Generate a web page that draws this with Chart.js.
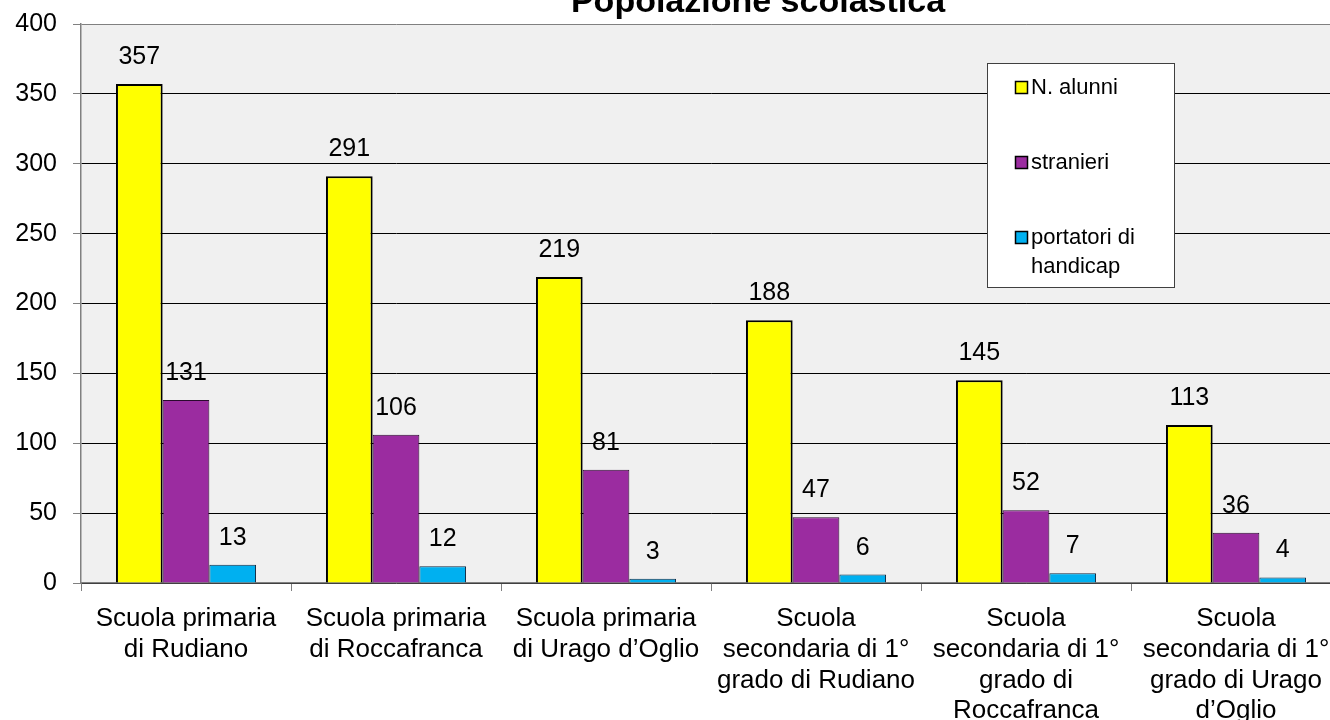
<!DOCTYPE html>
<html>
<head>
<meta charset="utf-8">
<script src="https://cdn.jsdelivr.net/npm/chart.js@4/dist/chart.umd.min.js"></script>
<style>
	body { margin: 0; overflow: hidden; background: #fff; }
	#wrap { position: relative; width: 1341px; height: 720px; }
</style>
</head>
<body>
<div id="wrap"><canvas id="chart"></canvas></div>
<script>
var chartTitle = "Popolazione scolastica";
var schools = [
	["Scuola primaria", "di Rudiano"],
	["Scuola primaria", "di Roccafranca"],
	["Scuola primaria", "di Urago d\u2019Oglio"],
	["Scuola", "secondaria di 1\u00b0", "grado di Rudiano"],
	["Scuola", "secondaria di 1\u00b0", "grado di", "Roccafranca"],
	["Scuola", "secondaria di 1\u00b0", "grado di Urago", "d\u2019Oglio"]
];
var seriesNames = ["N. alunni", "stranieri", "portatori di handicap"];
var alunni = [357, 291, 219, 188, 145, 113];
var stranieri = [131, 106, 81, 47, 52, 36];
var handicap = [13, 12, 3, 6, 7, 4];
var yTicks = [0, 50, 100, 150, 200, 250, 300, 350, 400];

var FONT = "'Liberation Sans', Arial, sans-serif";

// plot area background
var plotBg = {
	id: "plotBg",
	beforeDraw: function(chart) {
		var a = chart.chartArea, ctx = chart.ctx;
		ctx.save();
		ctx.fillStyle = "#f0f0f0";
		ctx.fillRect(a.left, a.top, a.right - a.left, a.bottom - a.top);
		ctx.restore();
	}
};

// numbers above bars
var barValues = {
	id: "barValues",
	afterDatasetsDraw: function(chart) {
		var ctx = chart.ctx;
		ctx.save();
		ctx.font = "25px " + FONT;
		ctx.fillStyle = "#000";
		ctx.textAlign = "center";
		ctx.textBaseline = "middle";
		chart.data.datasets.forEach(function(ds, i) {
			chart.getDatasetMeta(i).data.forEach(function(bar, j) {
				ctx.fillText(ds.data[j], bar.x, bar.y - 27);
			});
		});
		ctx.restore();
	}
};

// title (partly cut at the top) and boxed legend
var decor = {
	id: "decor",
	afterDraw: function(chart) {
		var ctx = chart.ctx;
		ctx.save();
		ctx.font = "bold 34px " + FONT;
		ctx.fillStyle = "#000";
		ctx.textAlign = "center";
		ctx.textBaseline = "alphabetic";
		ctx.fillText(chartTitle, 758, 12);

		var bx = 987.5, by = 63.5, bw = 187, bh = 224;
		ctx.fillStyle = "#fff";
		ctx.fillRect(bx, by, bw, bh);
		ctx.strokeStyle = "#404040";
		ctx.lineWidth = 1;
		ctx.strokeRect(bx, by, bw, bh);

		ctx.font = "22px " + FONT;
		ctx.textAlign = "left";
		ctx.textBaseline = "middle";
		var rowY = [88, 163, 238];
		chart.data.datasets.forEach(function(ds, i) {
			ctx.fillStyle = ds.backgroundColor;
			ctx.fillRect(1015.5, rowY[i] - 6.5, 12, 12);
			ctx.strokeStyle = "#000";
			ctx.lineWidth = 1.5;
			ctx.strokeRect(1015.5, rowY[i] - 6.5, 12, 12);
			// wrap the label inside the box
			var words = ds.label.split(" "), lines = [], cur = "";
			words.forEach(function(w) {
				var t = cur ? cur + " " + w : w;
				if (cur && ctx.measureText(t).width > 135) { lines.push(cur); cur = w; }
				else cur = t;
			});
			lines.push(cur);
			ctx.fillStyle = "#000";
			lines.forEach(function(l, k) {
				ctx.fillText(l, 1031, rowY[i] + k * 29);
			});
		});
		ctx.restore();
	}
};

var ctx = document.getElementById("chart");
var chart = new Chart(ctx, {
	type: "bar",
	data: {
		labels: schools,
		datasets: [
			{ label: seriesNames[0], data: alunni, backgroundColor: "#ffff00", borderColor: "#000", borderWidth: 2 },
			{ label: seriesNames[1], data: stranieri, backgroundColor: "#9b2ca0", borderColor: "#2a0a2e", borderWidth: 1 },
			{ label: seriesNames[2], data: handicap, backgroundColor: "#00b0f0", borderColor: "#102840", borderWidth: 1 }
		]
	},
	options: {
		responsive: true,
		maintainAspectRatio: false,
		animation: false,
		layout: { padding: { left: 0, top: 24, right: 0, bottom: 0 } },
		plugins: {
			legend: { display: false },
			title: { display: false },
			tooltip: { enabled: false }
		},
		datasets: {
			bar: { categoryPercentage: 0.667, barPercentage: 1 }
		},
		scales: {
			x: {
				grid: { offset: true, drawOnChartArea: false, drawTicks: true, tickLength: 8, tickColor: "#808080" },
				border: { display: true, color: "#808080", width: 1.5 },
				ticks: {
					autoSkip: false, maxRotation: 0, minRotation: 0, padding: 12, color: "#000",
					font: { family: FONT, size: 26, lineHeight: 1.19 }
				},
				afterFit: function(scale) { scale.height = 137; scale.paddingLeft = 0; scale.paddingRight = 0; }
			},
			y: {
				min: 0, max: 400,
				afterBuildTicks: function(scale) {
					scale.ticks = yTicks.map(function(v) { return { value: v }; });
				},
				grid: {
					color: function(c) { return c.tick && c.tick.value === 400 ? "#808080" : "#000"; },
					lineWidth: 1, tickLength: 8, tickColor: "#808080"
				},
				border: { display: true, color: "#808080", width: 1.5 },
				ticks: {
					padding: 16, color: "#000",
					font: { family: FONT, size: 25 }
				},
				afterFit: function(scale) { scale.width = 81; scale.paddingTop = 0; scale.paddingBottom = 0; }
			}
		}
	},
	plugins: [plotBg, barValues, decor]
});
</script>
</body>
</html>
